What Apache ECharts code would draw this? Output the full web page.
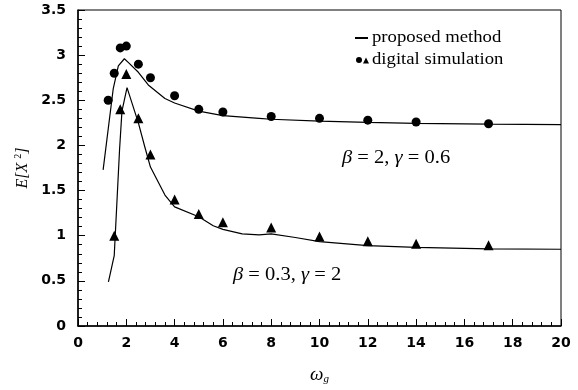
<!DOCTYPE html>
<html><head><meta charset="utf-8">
<script src="https://cdn.jsdelivr.net/npm/echarts@6/dist/echarts.min.js"></script>
<style>html,body{margin:0;padding:0;background:#fff}#c{width:578px;height:390px}</style>
</head><body><div id="c"></div>
<script>
// Data
var simX1 = [1.25, 1.5, 1.75, 2.0, 2.5, 3, 4, 5, 6, 8, 10, 12, 14, 17];
var simY1 = [2.50, 2.80, 3.08, 3.10, 2.90, 2.75, 2.55, 2.40, 2.37, 2.32, 2.30, 2.28, 2.26, 2.24];
var simX2 = [1.5, 1.75, 2.0, 2.5, 3, 4, 5, 6, 8, 10, 12, 14, 17];
var simY2 = [1.00, 2.40, 2.79, 2.30, 1.90, 1.40, 1.24, 1.15, 1.09, 0.99, 0.94, 0.91, 0.895];
var lineX1 = [1.04, 1.46, 1.67, 1.92, 2.08, 2.5, 2.91, 3.6, 4, 5, 6, 7.5, 8, 10, 12, 14, 17, 20];
var lineY1 = [1.73, 2.63, 2.88, 2.96, 2.92, 2.81, 2.67, 2.52, 2.47, 2.38, 2.33, 2.30, 2.29, 2.27, 2.255, 2.245, 2.235, 2.23];
var lineX2 = [1.26, 1.5, 1.72, 1.82, 2.03, 2.5, 2.77, 3.0, 3.6, 4.0, 5, 5.6, 6, 6.8, 7.5, 8, 9, 10, 12, 14, 17, 20];
var lineY2 = [0.49, 0.78, 1.95, 2.38, 2.64, 2.25, 1.98, 1.76, 1.45, 1.32, 1.21, 1.11, 1.07, 1.02, 1.01, 1.02, 0.98, 0.935, 0.89, 0.87, 0.855, 0.85];
var label1 = '{i|β} = 2, {i|γ} = 0.6';
var label2 = '{i|β} = 0.3, {i|γ} = 2';
var legend1 = 'proposed method';
var legend2 = 'digital simulation';

function zip(a, b) { return a.map(function (v, i) { return [v, b[i]]; }); }

var chart = echarts.init(document.getElementById('c'));
var tickFont = { fontFamily: 'DejaVu Sans', fontWeight: 'bold', fontSize: 14, color: '#000' };
var serif = 'Liberation Serif';
var annRich = { i: { fontFamily: serif, fontStyle: 'italic', fontSize: 19, fill: '#000' } };
chart.setOption({
  animation: false,
  grid: { left: 78, right: 17, top: 10, bottom: 58, show: true, borderColor: '#000', borderWidth: 1 },
  xAxis: {
    type: 'value', min: 0, max: 20, interval: 2,
    axisLine: { onZero: false, lineStyle: { color: '#000', width: 1.5 } },
    axisTick: { inside: true, length: 7, lineStyle: { color: '#000' } },
    minorTick: { show: true, splitNumber: 5, length: 4, lineStyle: { color: '#000' } },
    splitLine: { show: false },
    axisLabel: Object.assign({ margin: 10 }, tickFont),
    name: '{w|ω}{g|g}', nameLocation: 'middle', nameGap: 38,
    nameTextStyle: { rich: {
      w: { fontFamily: serif, fontStyle: 'italic', fontSize: 19, color: '#000' },
      g: { fontFamily: serif, fontStyle: 'italic', fontSize: 11, color: '#000', padding: [10, 0, 0, 0] }
    } }
  },
  yAxis: {
    type: 'value', min: 0, max: 3.5, interval: 0.5,
    axisLine: { onZero: false, lineStyle: { color: '#000', width: 1.5 } },
    axisTick: { inside: true, length: 7, lineStyle: { color: '#000' } },
    minorTick: { show: true, splitNumber: 5, length: 4, lineStyle: { color: '#000' } },
    splitLine: { show: false },
    axisLabel: Object.assign({ margin: 12 }, tickFont),
    name: '{e|E[X }{s|2}{e|]}', nameLocation: 'middle', nameGap: 46, nameRotate: 90,
    nameTextStyle: { rich: {
      e: { fontFamily: serif, fontStyle: 'italic', fontSize: 16, color: '#000' },
      s: { fontFamily: serif, fontSize: 10, color: '#000', padding: [0, 0, 8, 0] }
    } }
  },
  series: [
    { type: 'line', data: zip(lineX1, lineY1), showSymbol: false, symbol: 'none', lineStyle: { color: '#000', width: 1.2 } },
    { type: 'line', data: zip(lineX2, lineY2), showSymbol: false, symbol: 'none', lineStyle: { color: '#000', width: 1.2 } },
    { type: 'scatter', data: zip(simX1, simY1), symbol: 'circle', symbolSize: 9, itemStyle: { color: '#000', opacity: 1 } },
    { type: 'scatter', data: zip(simX2, simY2), symbol: 'triangle', symbolSize: 10, itemStyle: { color: '#000', opacity: 1 } }
  ],
  graphic: [
    { type: 'line', shape: { x1: 355, y1: 38, x2: 368, y2: 38 }, style: { stroke: '#000', lineWidth: 2 } },
    { type: 'text', x: 372, y: 38, scaleX: 1.1, style: { text: legend1, fontFamily: serif, fontSize: 17, fill: '#000', verticalAlign: 'middle' } },
    { type: 'circle', shape: { cx: 359, cy: 60, r: 3 }, style: { fill: '#000' } },
    { type: 'polygon', shape: { points: [[363, 63.5], [369, 63.5], [366, 57.5]] }, style: { fill: '#000' } },
    { type: 'text', x: 372, y: 60, scaleX: 1.1, style: { text: legend2, fontFamily: serif, fontSize: 17, fill: '#000', verticalAlign: 'middle' } },
    { type: 'text', x: 342, y: 158, scaleX: 1.08, style: { text: label1, fontFamily: serif, fontSize: 19, fill: '#000', rich: annRich, verticalAlign: 'middle' } },
    { type: 'text', x: 233, y: 275, scaleX: 1.08, style: { text: label2, fontFamily: serif, fontSize: 19, fill: '#000', rich: annRich, verticalAlign: 'middle' } }
  ]
});
</script></body></html>
